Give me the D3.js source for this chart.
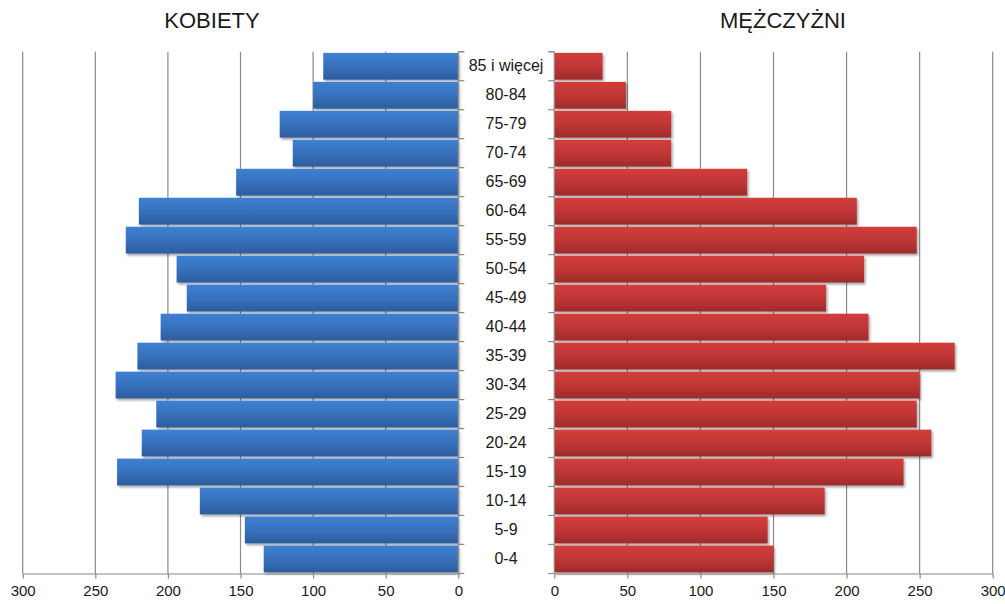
<!DOCTYPE html>
<html>
<head>
<meta charset="utf-8">
<script src="https://cdn.jsdelivr.net/npm/d3@7"></script>
<style>
  html, body { margin: 0; padding: 0; background: #fff; }
  svg { display: block; }
  text { font-family: "Liberation Sans", Arial, sans-serif; fill: #1a1a1a; }
</style>
</head>
<body>
<svg id="chart" width="1005" height="604"></svg>
<script>
// Age groups, listed from youngest to oldest
const ageGroups = ["0-4", "5-9", "10-14", "15-19", "20-24", "25-29", "30-34", "35-39",
  "40-44", "45-49", "50-54", "55-59", "60-64", "65-69", "70-74", "75-79", "80-84", "85 i więcej"];

// Women per age group
const women = [134, 147, 178, 235, 218, 208, 236, 221, 205, 187, 194, 229, 220, 153, 114, 123, 100, 93];

// Men per age group
const men = [150, 146, 185, 239, 258, 248, 250, 274, 215, 186, 212, 248, 207, 132, 80, 80, 49, 33];

// Value axis ticks
const valueTicks = [0, 50, 100, 150, 200, 250, 300];

const sideTitles = ["KOBIETY", "MĘŻCZYŻNI"];

const svg = d3.select("#chart");

const plotTop = 51.7, plotBottom = 573.5;
const leftZero = 458.3, leftMax = 22.7;
const rightZero = 554.3, rightMax = 992.7;
const labelX = 506;

const xL = d3.scaleLinear().domain([0, 300]).range([leftZero, leftMax]);
const xR = d3.scaleLinear().domain([0, 300]).range([rightZero, rightMax]);
const y = d3.scaleBand()
  .domain(ageGroups.slice().reverse())
  .range([plotTop, plotBottom])
  .paddingInner(0.075)
  .paddingOuter(0.04);

const defs = svg.append("defs");

function gradient(id, stops) {
  const g = defs.append("linearGradient").attr("id", id)
    .attr("x1", 0).attr("y1", 0).attr("x2", 0).attr("y2", 1);
  stops.forEach(([o, c]) => g.append("stop").attr("offset", o).attr("stop-color", c));
}
gradient("gradBlue", [[0, "#3e80d2"], [0.5, "#3771bd"], [1, "#2c5c9c"]]);
gradient("gradRed", [[0, "#d13d3b"], [0.5, "#c03635"], [1, "#9e2b2a"]]);

const shadow = defs.append("filter").attr("id", "barShadow")
  .attr("x", "-5%").attr("y", "-20%").attr("width", "110%").attr("height", "150%");
shadow.append("feDropShadow")
  .attr("dx", 1.5).attr("dy", 2).attr("stdDeviation", 1.2)
  .attr("flood-color", "#000").attr("flood-opacity", 0.35);

const gridColor = "#8a8a8a";

// Vertical gridlines on both halves
const grid = svg.append("g");
valueTicks.filter(v => v > 0).forEach(v => {
  grid.append("line")
    .attr("x1", xL(v)).attr("x2", xL(v)).attr("y1", plotTop).attr("y2", plotBottom)
    .attr("stroke", gridColor).attr("stroke-width", 1.2);
  grid.append("line")
    .attr("x1", xR(v)).attr("x2", xR(v)).attr("y1", plotTop).attr("y2", plotBottom)
    .attr("stroke", gridColor).attr("stroke-width", 1.2);
});

// Category axes along the zero lines
const bandEdges = ageGroups.map(a => y(a) - y.step() * y.paddingInner() / 2)
  .concat([plotTop, plotBottom]);
function categoryAxis(x0, dir) {
  const g = svg.append("g");
  g.append("line").attr("x1", x0).attr("x2", x0).attr("y1", plotTop).attr("y2", plotBottom)
    .attr("stroke", gridColor).attr("stroke-width", 1.2);
  bandEdges.forEach(e => {
    g.append("line").attr("x1", x0).attr("x2", x0 + dir * 6).attr("y1", e).attr("y2", e)
      .attr("stroke", gridColor).attr("stroke-width", 1.2);
  });
}

// Bars
svg.append("g").attr("filter", "url(#barShadow)")
  .selectAll("rect").data(ageGroups).join("rect")
  .attr("x", (d, i) => xL(women[i]))
  .attr("width", (d, i) => leftZero - xL(women[i]))
  .attr("y", d => y(d))
  .attr("height", y.bandwidth())
  .attr("fill", "url(#gradBlue)");

svg.append("g").attr("filter", "url(#barShadow)")
  .selectAll("rect").data(ageGroups).join("rect")
  .attr("x", rightZero)
  .attr("width", (d, i) => xR(men[i]) - rightZero)
  .attr("y", d => y(d))
  .attr("height", y.bandwidth())
  .attr("fill", "url(#gradRed)");

categoryAxis(leftZero, 1);
categoryAxis(rightZero, -1);

// Value axes at the bottom
function valueAxis(scale) {
  const g = svg.append("g").attr("transform", `translate(0,${plotBottom})`)
    .call(d3.axisBottom(scale).tickValues(valueTicks).tickSize(5).tickSizeOuter(0).tickPadding(7));
  g.select(".domain").attr("stroke", gridColor).attr("stroke-width", 1.2);
  g.selectAll(".tick line").attr("stroke", gridColor).attr("stroke-width", 1.2);
  g.selectAll(".tick text")
    .style("font-family", '"Liberation Sans", Arial, sans-serif')
    .style("font-size", "15px").attr("fill", "#1a1a1a");
}
valueAxis(xL);
valueAxis(xR);

// Age group labels between the halves
svg.append("g").selectAll("text").data(ageGroups).join("text")
  .attr("x", labelX)
  .attr("y", d => y(d) + y.bandwidth() / 2)
  .attr("dy", "0.3em")
  .attr("text-anchor", "middle")
  .style("font-size", "16px")
  .text(d => d);

// Side titles
svg.append("text").attr("x", 212).attr("y", 28).attr("text-anchor", "middle")
  .style("font-size", "22px").text(sideTitles[0]);
svg.append("text").attr("x", 783).attr("y", 28).attr("text-anchor", "middle")
  .style("font-size", "22px").text(sideTitles[1]);
</script>
</body>
</html>
